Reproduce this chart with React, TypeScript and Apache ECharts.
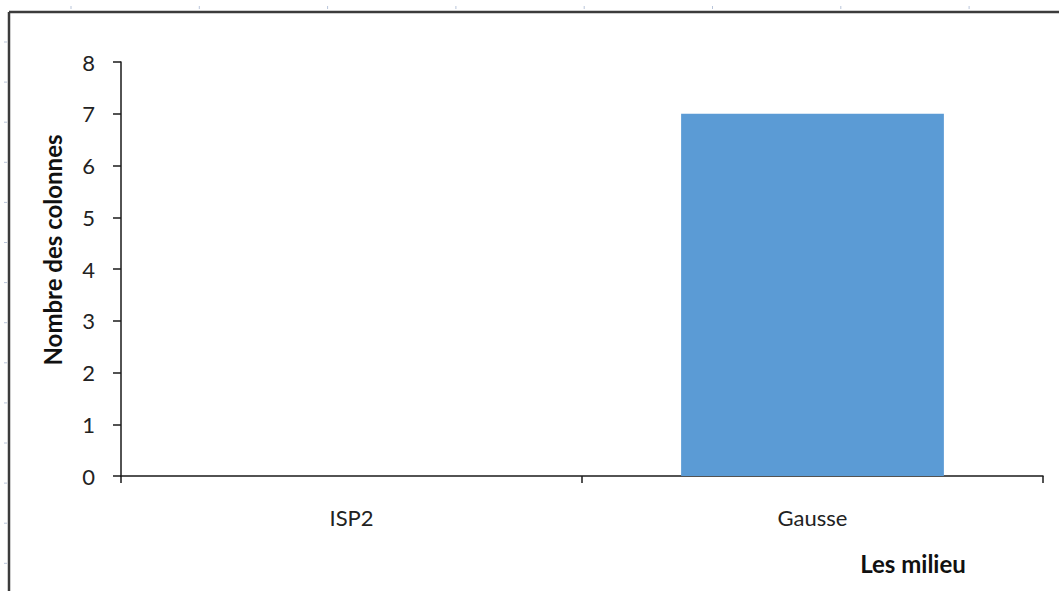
import React, { useEffect, useRef } from "react";
import * as echarts from "echarts";

// Colonnes par milieu
const categories: string[] = ["ISP2", "Gausse"];
const columnCounts: number[] = [0, 7];
const yTicks: number[] = [0, 1, 2, 3, 4, 5, 6, 7, 8];

const FONT = "Lato, 'Open Sans', sans-serif";
const W = 1059;
const H = 591;

// faint worksheet ruler marks around the embedded chart
function rulerMarks() {
  const marks: any[] = [];
  const tickStyle = { stroke: "#b9c5da", lineWidth: 1 };
  for (let i = 0; i < 8; i++) {
    const x = 71 + i * 128.3;
    marks.push({ type: "line", shape: { x1: x, y1: 6, x2: x, y2: 9 }, style: tickStyle, silent: true });
  }
  for (let i = 0; i < 14; i++) {
    const y = 42 + i * 40.1;
    marks.push({ type: "line", shape: { x1: 4, y1: y, x2: 7, y2: y }, style: tickStyle, silent: true });
  }
  return marks;
}

export default function App() {
  const ref = useRef<HTMLDivElement>(null);

  useEffect(() => {
    if (!ref.current) return;
    const chart = echarts.init(ref.current, undefined, { renderer: "svg" });
    chart.setOption({
      animation: false,
      backgroundColor: "#ffffff",
      grid: { left: 121, top: 62, right: 16, bottom: 115, containLabel: false },
      xAxis: {
        type: "category",
        data: categories,
        boundaryGap: true,
        axisLine: { show: true, lineStyle: { color: "#1a1a1a", width: 1.5 } },
        axisTick: { show: true, length: 7, inside: false, lineStyle: { color: "#1a1a1a", width: 1.5 } },
        axisLabel: { fontFamily: FONT, fontSize: 22, color: "#222222", margin: 30 },
      },
      yAxis: {
        type: "value",
        min: yTicks[0],
        max: yTicks[yTicks.length - 1],
        interval: 1,
        axisLine: { show: true, lineStyle: { color: "#1a1a1a", width: 1.5 } },
        axisTick: { show: true, length: 8, lineStyle: { color: "#1a1a1a", width: 1.5 } },
        axisLabel: { fontFamily: FONT, fontSize: 22, color: "#222222", margin: 26 },
        splitLine: { show: false },
      },
      series: [
        {
          type: "bar",
          data: columnCounts,
          barCategoryGap: "43%",
          itemStyle: { color: "#5b9bd5" },
        },
      ],
      graphic: [
        ...rulerMarks(),
        // chart frame (top and left edges)
        { type: "line", shape: { x1: 9, y1: 12, x2: W, y2: 12 }, style: { stroke: "#3c3c3c", lineWidth: 2.5 }, silent: true },
        { type: "line", shape: { x1: 9, y1: 12, x2: 9, y2: H }, style: { stroke: "#3c3c3c", lineWidth: 2.5 }, silent: true },
        {
          type: "text",
          x: 52,
          y: 250,
          rotation: Math.PI / 2,
          style: {
            text: "Nombre des colonnes",
            fontFamily: FONT,
            fontSize: 24,
            fontWeight: "bold",
            fill: "#111111",
            align: "center",
            verticalAlign: "middle",
          },
        },
        {
          type: "text",
          x: 913,
          y: 563,
          style: {
            text: "Les milieu",
            fontFamily: FONT,
            fontSize: 24,
            fontWeight: "bold",
            fill: "#111111",
            align: "center",
            verticalAlign: "middle",
          },
        },
      ],
    });
    return () => chart.dispose();
  }, []);

  return (
    <div
      ref={ref}
      style={{ position: "absolute", left: 0, top: 0, width: W, height: H }}
    />
  );
}
